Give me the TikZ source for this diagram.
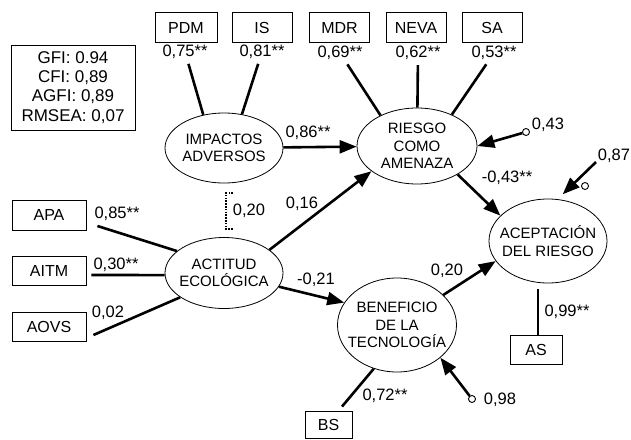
\documentclass[tikz,border=0pt]{standalone}
\usepackage{fontspec}
\setmainfont{Liberation Sans}
\usetikzlibrary{arrows.meta,calc,positioning,shapes.geometric}

\begin{document}
\begin{tikzpicture}[x=1pt,y=-1pt,
  lat/.style={draw,ellipse,line width=.8pt,inner xsep=-8pt,inner ysep=0pt,align=center,font=\fontsize{15}{17.5}\selectfont},
  obs/.style={draw,line width=.9pt,minimum width=60pt,minimum height=30pt,inner sep=0pt,font=\fontsize{16}{18}\selectfont},
  coef/.style={inner sep=1pt,font=\fontsize{16.5}{18}\selectfont},
  load/.style={line width=2.6pt,shorten <=4pt},
  eff/.style={line width=2.6pt,-{Triangle[length=17pt,width=13pt]}},
  err/.style={circle,draw,line width=.9pt,inner sep=0pt,minimum size=7pt},
  corr/.style={line width=2pt,dash pattern=on 1.6pt off 1.2pt}]
  \useasboundingbox(0,0)rectangle(631,439);
  % fit indices
  \node[draw,line width=.9pt,align=center,minimum width=124pt,minimum height=85pt,inner sep=0pt,font=\fontsize{17}{19.3}\selectfont](fit)at(73,87.5){GFI: 0.94\\CFI: 0,89\\AGFI: 0,89\\RMSEA: 0,07};
  % latent variables
  \node[lat,minimum width=118pt,minimum height=70pt](imp)at(224,148){IMPACTOS\\ADVERSOS};
  \node[lat,minimum width=120pt,minimum height=76pt](ries)at(417,146){RIESGO\\COMO\\AMENAZA};
  \node[lat,minimum width=118pt,minimum height=84pt](acc)at(548,241){ACEPTACIÓN\\DEL RIESGO};
  \node[lat,minimum width=118pt,minimum height=71pt](act)at(224,273){ACTITUD\\ECOLÓGICA};
  \node[lat,minimum width=119pt,minimum height=94pt](ben)at(397,325){BENEFICIO\\DE LA\\TECNOLOGÍA};
  % indicators
  \node[obs,minimum width=62pt](pdm)at(186,27.5){PDM};
  \node[obs](is)at(262,27.5){IS};
  \node[obs](mdr)at(339.5,27.5){MDR};
  \node[obs](neva)at(416,27.5){NEVA};
  \node[obs](sa)at(492,27.5){SA};
  \node[obs,minimum width=74pt](apa)at(49,215){APA};
  \node[obs,minimum width=74pt,minimum height=29pt](aitm)at(49,270.5){AITM};
  \node[obs,minimum width=74pt,minimum height=29pt](aovs)at(49,326.5){AOVS};
  \node[obs,minimum width=52pt,minimum height=29pt](as)at(536,349.5){AS};
  \node[obs,minimum width=47pt,minimum height=27pt](bs)at(328.5,425){BS};
  % loadings
  \node[coef](lpdm)at(185,52){0,75**};
  \node[coef](lis)at(262,52){0,81**};
  \node[coef](lmdr)at(340,53){0,69**};
  \node[coef](lneva)at(418,53){0,62**};
  \node[coef](lsa)at(494,53){0,53**};
  \draw[load](lpdm)--(imp.122);
  \draw[load](lis)--(imp.62);
  \draw[load](lmdr)--(ries.140);
  \draw[load](lneva)--(ries);
  \draw[load](lsa)--(ries.42);
  \node[coef](lapa)at(117,214){0,85**};
  \node[coef](laitm)at(116,265){0,30**};
  \node[coef](laovs)at(108,313){0,02};
  \draw[load,shorten <=0pt]([xshift=11pt,yshift=-11pt]apa.east)--(act.155);
  \draw[load,shorten <=0pt]([xshift=5pt,yshift=-4.5pt]aitm.east)--(act.182);
  \draw[load,shorten <=0pt]([xshift=7pt,yshift=-8.5pt]aovs.east)--(act.209);
  \node[coef](las)at(567,312){0,99**};
  \draw[load,shorten <=0pt,shorten >=6pt]([xshift=2pt]as.north)--([xshift=2pt]as.north|-acc.south);
  \node[coef](lbs)at(385,396){0,72**};
  \draw[load,shorten <=0pt]([xshift=13.5pt,yshift=4.5pt]bs.north)--(ben.242);
  % structural paths
  \draw[eff](imp)--(ries);
  \node[coef]at(308,133){0,86**};
  \draw[eff](act.27)--(ries.209);
  \node[coef]at(302,204){0,16};
  \draw[eff](act.-14)--(ben.157);
  \node[coef]at(316,280){-0,21};
  \draw[eff](ries.-35)--(acc.152);
  \node[coef]at(507,178){-0,43**};
  \draw[eff](ben.33)--(acc.201);
  \node[coef]at(447,271){0,20};
  \draw[corr]([xshift=9pt,yshift=-10pt]imp.south)-|([xshift=2pt,yshift=8pt]act.north)--++(7,0);
  \node[coef]at(249,211){0,20};
  % residuals
  \node[err](e1)at(526,132){};
  \draw[eff](e1)--(ries.east);
  \node[coef]at(548,125){0,43};
  \node[err](e2)at(585,186){};
  \coordinate(s87)at(596,162);
  \draw[eff,shorten >=7pt](s87)--(acc.77);
  \node[coef]at(614,156){0,87};
  \node[err](e3)at(472,399){};
  \draw[eff](e3)--(ben.-37);
  \node[coef]at(500,400){0,98};
\end{tikzpicture}
\end{document}
